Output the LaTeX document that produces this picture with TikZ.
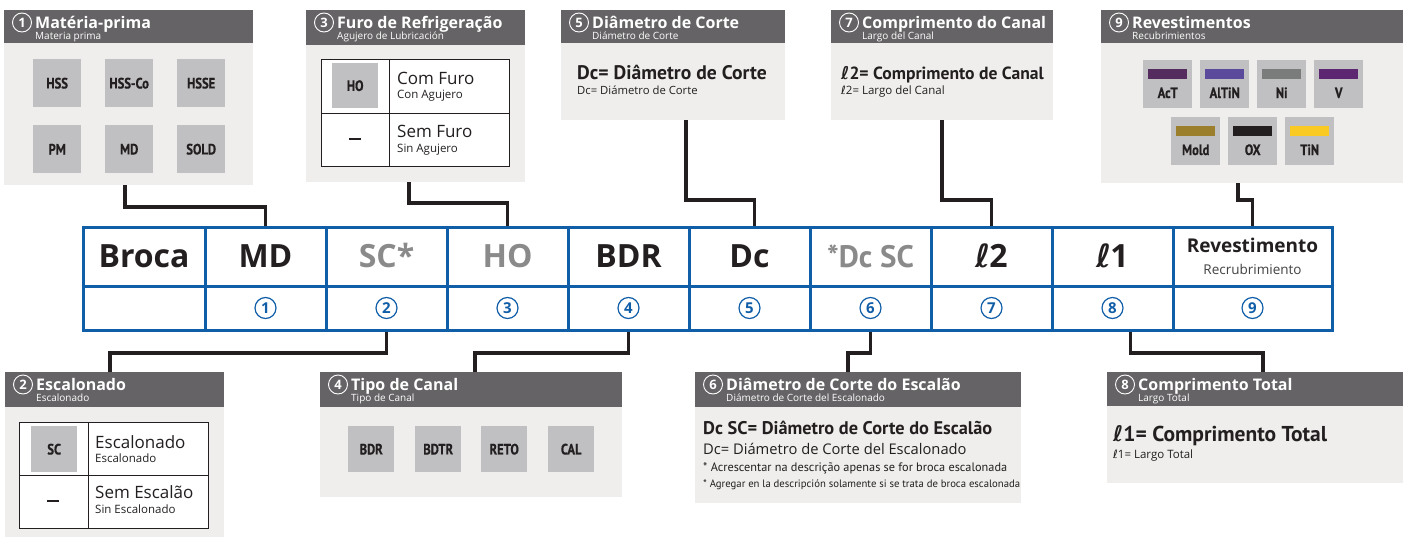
\documentclass[tikz,border=0pt]{standalone}
\usepackage{fontspec}
\setmainfont{Open Sans}
\newfontfamily\pts{PT Sans}
\newfontfamily\condb[FakeStretch=0.84,FakeBold=0.6]{PT Sans}
\newfontfamily\dv{DejaVu Sans}
\newcommand\lsym{{\dv ℓ}}
\newcommand\fs[1]{\fontsize{#1}{#1}\selectfont}
\definecolor{hdrgray}{RGB}{101,99,101}
\definecolor{bodygray}{RGB}{239,238,236}
\definecolor{tilegray}{RGB}{192,192,194}
\definecolor{tblue}{RGB}{16,94,168}
\definecolor{linec}{RGB}{35,31,32}
\definecolor{txt}{RGB}{35,31,32}
\definecolor{ltxt}{RGB}{138,138,138}
\definecolor{cAcT}{RGB}{84,44,94}
\definecolor{cAlTiN}{RGB}{91,74,156}
\definecolor{cNi}{RGB}{122,124,124}
\definecolor{cV}{RGB}{92,38,112}
\definecolor{cMold}{RGB}{155,127,44}
\definecolor{cOX}{RGB}{35,31,32}
\definecolor{cTiN}{RGB}{249,201,36}
\newcommand\Head[8]{%
  \node[hdr,minimum width=#4,minimum height=#5] (#1) at (#2,#3) {};
  \node[hnum] (#1n) at ([shift={(18,12.5)}]#1.north west) {#6};
  \node[htitle] (#1t) at ([shift={(31,18.5)}]#1.north west) {#7};
  \node[hsub] (#1s) at ([shift={(31,29.5)}]#1.north west) {#8};}
\newcommand\Coat[5]{%
  \node[tile,minimum width=49] (#1) at (#2,#3) {};
  \node[fill=#4,minimum width=39,minimum height=10,inner sep=0,anchor=north] (#1b) at ([yshift=-9pt]#1.north) {};
  \node[font=\condb\bfseries\fs{15},text=txt,anchor=base,inner sep=0] (#1l) at ([yshift=-38pt]#1.north) {#5};}
\begin{document}
\begin{tikzpicture}[x=1pt,y=-1pt,
  hdr/.style={fill=hdrgray,anchor=north west,inner sep=0,outer sep=0},
  body/.style={fill=bodygray,anchor=north west,inner sep=0,outer sep=0},
  tile/.style={fill=tilegray,anchor=north west,inner sep=0,minimum width=48,minimum height=48,font=\condb\bfseries\fs{15},text=txt},
  hnum/.style={circle,draw=white,line width=0.9,minimum size=19,inner sep=0,text=white,font=\bfseries\fs{13}},
  htitle/.style={anchor=base west,text=white,font=\bfseries\fs{16},inner sep=0},
  hsub/.style={anchor=base west,text=white,font=\fs{10},inner sep=0},
  cell/.style={draw=tblue,line width=3,inner sep=0,outer sep=0,anchor=north west},
  big/.style={font=\bfseries\fs{32},anchor=base,inner sep=0,text=txt},
  bnum/.style={circle,draw=tblue,line width=1.2,minimum size=21,inner sep=0,text=tblue,font=\bfseries\fs{15}},
  conn/.style={draw=linec,line width=3.5},
  itab/.style={draw=txt,line width=0.9,fill=white,inner sep=0,anchor=north west},
  bigt/.style={anchor=base west,inner sep=0,text=txt},
  dashmark/.style={fill=txt,minimum width=12,minimum height=2.6,inner sep=0},
]
\useasboundingbox[fill=white] (0,0) rectangle (1407,538);

% ---------- table ----------
\foreach \i/\l/\r in {1/83/205,2/205/326,3/326/447,4/447/568,5/568/689,6/689/810,7/810/931,8/931/1052,9/1052/1173,10/1173/1332}{
  \node[cell,minimum width=\r-\l,minimum height=59] (c\i) at (\l,227) {};
  \node[cell,minimum width=\r-\l,minimum height=44] (n\i) at (\l,286) {};
}
\node[big] (l1) at ([yshift=19pt]c1.south) {Broca};
\node[big] (l2) at ([yshift=19pt]c2.south) {MD};
\node[big,text=ltxt] (l3) at ([yshift=19pt]c3.south) {SC*};
\node[big,text=ltxt] (l4) at ([yshift=19pt]c4.south) {HO};
\node[big] (l5) at ([yshift=19pt]c5.south) {BDR};
\node[big] (l6) at ([yshift=19pt]c6.south) {Dc};
\node[big,text=ltxt,font=\pts\bfseries\fs{31}] (l7) at ([yshift=19pt]c7.south) {*Dc SC};
\node[big] (l8) at ([yshift=19pt]c8.south) {\lsym\kern-1pt 2};
\node[big] (l9) at ([yshift=19pt]c9.south) {\lsym\kern-1pt 1};
\node[big,font=\bfseries\fs{19}] (l10) at ([yshift=34pt]c10.south) {Revestimento};
\node[anchor=base,inner sep=0,font=\fs{13.5},text=txt!85] (l10s) at ([yshift=12pt]c10.south) {Recrubrimiento};
\foreach \i/\k in {2/1,3/2,4/3,5/4,6/5,7/6,8/7,9/8,10/9}{
  \node[bnum] (cn\k) at (n\i) {\k};
}

% ---------- box 1 ----------
\Head{h1}{4}{10}{249}{33}{1}{Matéria-prima}{Materia prima}
\node[body,minimum width=249,minimum height=142] (b1) at (4,43) {};
\node[tile] (t1a) at (33,59) {HSS};
\node[tile] (t1b) at (105,59) {HSS-Co};
\node[tile] (t1c) at (177,59) {HSSE};
\node[tile] (t1d) at (33,125) {PM};
\node[tile] (t1e) at (105,125) {MD};
\node[tile] (t1f) at (177,125) {SOLD};

% ---------- box 3 ----------
\Head{h3}{306}{10}{219}{35}{3}{Furo de Refrigeração}{Agujero de Lubricación}
\node[body,minimum width=219,minimum height=137] (b3) at (306,45) {};
\node[itab,minimum width=188,minimum height=107] (it3) at (321,59) {};
\draw[txt,line width=0.9] ([xshift=68pt]it3.north west) -- ([xshift=68pt]it3.south west);
\draw[txt,line width=0.9] ([yshift=-54pt]it3.north west) -- ([yshift=-54pt]it3.north east);
\node[tile,minimum width=46,minimum height=45] (t3a) at (332,63) {HO};
\node[dashmark] (t3d) at (355,139) {};
\node[bigt,font=\fs{17}] (t3a1) at (397,84) {Com Furo};
\node[bigt,font=\fs{11.5}] (t3a2) at (397,98) {Con Agujero};
\node[bigt,font=\fs{17}] (t3b1) at (397,137) {Sem Furo};
\node[bigt,font=\fs{11.5}] (t3b2) at (397,152) {Sin Agujero};

% ---------- box 5 ----------
\Head{h5}{561}{10}{224}{33}{5}{Diâmetro de Corte}{Diámetro de Corte}
\node[body,minimum width=224,minimum height=77] (b5) at (561,43) {};
\node[bigt,font=\pts\bfseries\fs{19.6}] (t5a) at (577,79) {Dc= Diâmetro de Corte};
\node[bigt,font=\fs{11.3}] (t5b) at (577,94) {Dc= Diámetro de Corte};

% ---------- box 7 ----------
\Head{h7}{831}{10}{222}{33}{7}{Comprimento do Canal}{Largo del Canal}
\node[body,minimum width=222,minimum height=77] (b7) at (831,43) {};
\node[bigt,font=\pts\bfseries\fs{17.6}] (t7a) at (841,79) {\lsym2= Comprimento de Canal};
\node[bigt,font=\fs{11.5}] (t7b) at (841,94) {\lsym2= Largo del Canal};

% ---------- box 9 ----------
\Head{h9}{1101}{10}{302}{33}{9}{Revestimentos}{Recubrimientos}
\node[body,minimum width=302,minimum height=140] (b9) at (1101,43) {};
\Coat{k1}{1143}{60}{cAcT}{AcT}
\Coat{k2}{1200}{60}{cAlTiN}{AlTiN}
\Coat{k3}{1257}{60}{cNi}{Ni}
\Coat{k4}{1314}{60}{cV}{V}
\Coat{k5}{1171}{117}{cMold}{Mold}
\Coat{k6}{1228}{117}{cOX}{OX}
\Coat{k7}{1285}{117}{cTiN}{TiN}

% ---------- box 2 ----------
\Head{h2}{5}{372}{219}{35}{2}{Escalonado}{Escalonado}
\node[body,minimum width=219,minimum height=130] (b2) at (5,407) {};
\node[itab,minimum width=189,minimum height=106] (it2) at (19,422) {};
\draw[txt,line width=0.9] ([xshift=69pt]it2.north west) -- ([xshift=69pt]it2.south west);
\draw[txt,line width=0.9] ([yshift=-53pt]it2.north west) -- ([yshift=-53pt]it2.north east);
\node[tile,minimum width=46,minimum height=46] (t2a) at (31,426) {SC};
\node[dashmark] (t2d) at (53,501) {};
\node[bigt,font=\fs{17}] (t2a1) at (95,448) {Escalonado};
\node[bigt,font=\fs{11.5}] (t2a2) at (95,462) {Escalonado};
\node[bigt,font=\fs{17}] (t2b1) at (95,498) {Sem Escalão};
\node[bigt,font=\fs{11.5}] (t2b2) at (95,513) {Sin Escalonado};

% ---------- box 4 ----------
\Head{h4}{320}{372}{302}{35}{4}{Tipo de Canal}{Tipo de Canal}
\node[body,minimum width=302,minimum height=90] (b4) at (320,407) {};
\node[tile,minimum width=46,minimum height=46] (t4a) at (348,426) {BDR};
\node[tile,minimum width=46,minimum height=46] (t4b) at (415,426) {BDTR};
\node[tile,minimum width=46,minimum height=46] (t4c) at (481,426) {RETO};
\node[tile,minimum width=46,minimum height=46] (t4d) at (548,426) {CAL};

% ---------- box 6 ----------
\Head{h6}{695}{372}{326}{35}{6}{Diâmetro de Corte do Escalão}{Diámetro de Corte del Escalonado}
\node[body,minimum width=326,minimum height=96] (b6) at (695,407) {};
\node[bigt,font=\pts\bfseries\fs{18.3}] (t6a) at (703,434) {Dc SC= Diâmetro de Corte do Escalão};
\node[bigt,font=\fs{14.7}] (t6b) at (703,454) {Dc= Diámetro de Corte del Escalonado};
\node[bigt,font=\pts\fs{11}] (t6c) at (703,471) {\resizebox{304pt}{!}{* Acrescentar na descrição apenas se for broca escalonada}};
\node[bigt,font=\pts\fs{11}] (t6d) at (703,487) {\resizebox{317pt}{!}{* Agregar en la descripción solamente si se trata de broca escalonada}};

% ---------- box 8 ----------
\Head{h8}{1107}{372}{296}{34}{8}{Comprimento Total}{Largo Total}
\node[body,minimum width=296,minimum height=77] (b8) at (1107,406) {};
\node[bigt,font=\pts\bfseries\fs{21.5}] (t8a) at (1113,441) {\lsym1= Comprimento Total};
\node[bigt,font=\fs{11.5}] (t8b) at (1113,458) {\lsym1= Largo Total};

% ---------- connectors ----------
\draw[conn,shorten >=1.5pt] ([xshift=121pt]b1.south west) -- ++(0,22) -| (c2.north);
\draw[conn,shorten >=1.5pt] ([xshift=103pt]b3.south west) -- ++(0,21) -| (c4.north);
\draw[conn,shorten >=1.5pt] ([xshift=125pt]b5.south west) -- ++(0,80) -| ([xshift=5pt]c6.north);
\draw[conn,shorten >=1.5pt] ([xshift=111pt]b7.south west) -- ++(0,80) -| (c8.north);
\draw[conn,shorten >=1.5pt] ([xshift=137pt]b9.south west) -- ++(0,17) -| (c10.north);
\draw[conn,shorten <=1.5pt] (n3.south) -- ++(0,23) -| ([xshift=105pt]h2.north west);
\draw[conn,shorten <=1.5pt] (n5.south) -- ++(0,23) -| ([xshift=155pt]h4.north west);
\draw[conn,shorten <=1.5pt] (n7.south) -- ++(0,23) -| ([xshift=153pt]h6.north west);
\draw[conn,shorten <=1.5pt] ([xshift=18pt]n9.south) -- ++(0,23) -| ([xshift=156pt]h8.north west);
\end{tikzpicture}
\end{document}
